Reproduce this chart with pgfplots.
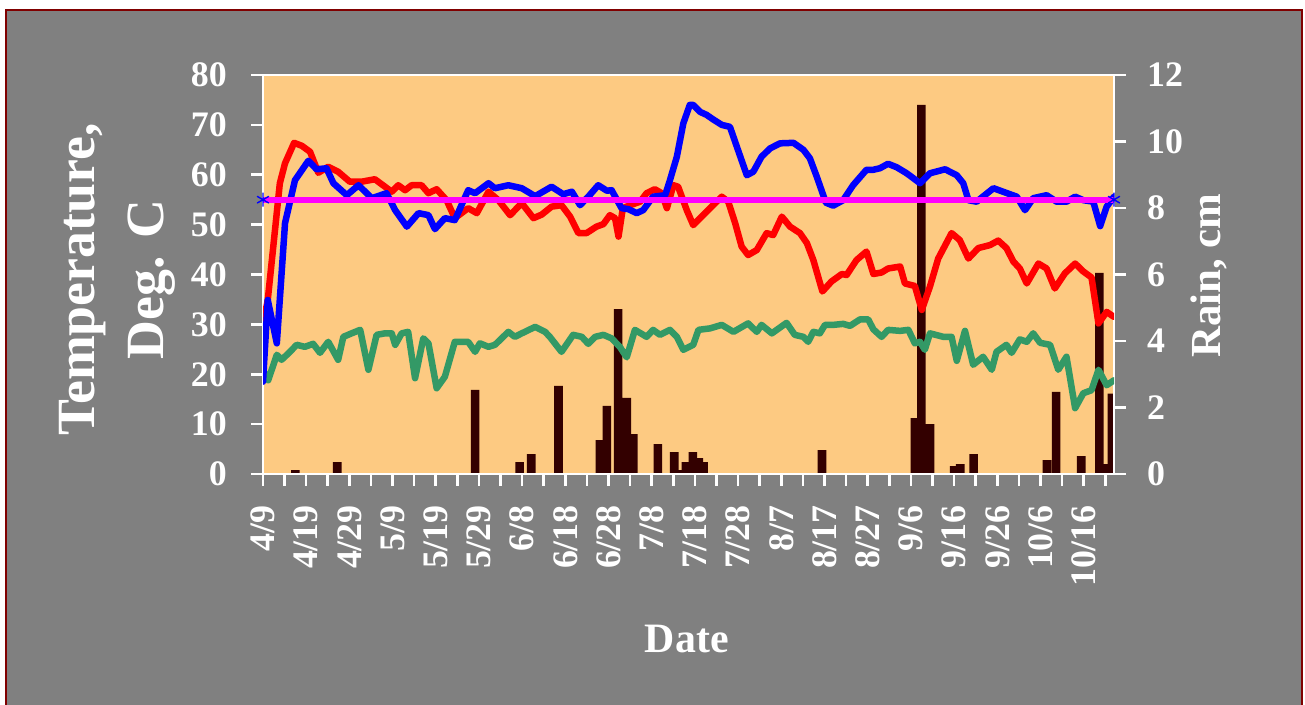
\documentclass[border=0pt]{standalone}
\usepackage{pgfplots}
\pgfplotsset{compat=1.18}
\usepackage{fontspec}
\setmainfont{Liberation Serif}
\definecolor{bgpeach}{RGB}{253,202,130}
\definecolor{framered}{RGB}{128,0,0}
\definecolor{chartgray}{RGB}{128,128,128}
\definecolor{rainbar}{RGB}{51,0,0}
\definecolor{seagreen}{RGB}{51,153,102}
\definecolor{lineblue}{RGB}{0,0,255}
\definecolor{linered}{RGB}{255,0,0}
\definecolor{linemagenta}{RGB}{255,0,255}
\newcommand\tickfont{\fontsize{36}{40}\selectfont\bfseries}

\pgfplotstableread{
day rain
7.5 0.12
17.2 0.36
49.1 2.53
59.4 0.36
62.1 0.60
68.4 2.65
78.0 1.02
79.6 2.05
82.2 4.96
84.2 2.29
85.7 1.20
91.4 0.90
95.2 0.66
96.8 0.12
97.9 0.36
99.5 0.66
100.9 0.48
102.0 0.36
129.4 0.72
150.9 1.68
152.4 11.10
154.4 1.50
160.0 0.24
161.4 0.30
164.5 0.60
181.5 0.42
183.6 2.47
189.4 0.54
193.6 6.05
195.0 0.30
196.5 2.42
}\raintable

\pgfplotstableread{
day t
0 18.5
1.1 34.9
3.2 26.2
5.1 50.3
7.4 58.9
10.5 62.8
12.4 61.1
14.7 61.3
16.3 58.3
19.4 55.9
22.1 57.9
25.2 55.3
28.6 56.3
30.6 52.9
33.3 49.6
36 52.3
38.3 51.9
39.8 49.1
42.1 51.3
44.4 50.9
47.5 56.9
49.1 56.3
52.2 58.3
53.7 57.3
56.8 57.9
59.9 57.3
63 55.7
66.8 57.6
69.5 56.1
71.5 56.6
73.4 53.9
75.3 55.6
77.6 57.9
79.6 56.8
80.7 56.9
83 53.3
84.6 53.1
86.5 52.3
88 52.9
90.3 55.6
93.1 55.9
94.2 58.9
95.8 63.6
97.3 70.3
98.8 74.0
99.6 74.0
101.2 72.6
102.7 72.0
104.2 71.1
106.2 70.0
108.1 69.6
109.7 65.6
112 59.9
113.5 60.6
115.4 63.6
117.4 65.3
119.7 66.3
122.8 66.4
125.1 65.0
126.6 63.3
128.2 59.6
130.3 54.4
132 53.8
134.3 54.9
136.6 57.9
139.7 61.0
141.3 61.0
142.8 61.3
144.7 62.2
146.7 61.5
149 60.3
152.1 58.3
154.4 60.3
157.9 61.1
160.6 59.9
162.1 58.3
163.3 54.9
165.2 54.6
169.1 57.3
172.9 56.1
174.5 55.6
176.4 52.9
178.3 55.3
181.4 55.9
183.7 54.6
186 54.6
188 55.6
189.9 54.9
192.2 54.6
193.8 49.7
195.3 53.6
197 55.6
}\bluetable

\pgfplotstableread{
day t
0 29.9
1.1 34.9
3.9 58.3
5.1 62.3
7.2 66.4
9 65.8
10.9 64.6
12.8 60.4
15.1 61.6
17.4 60.6
20.1 58.6
22.8 58.6
25.9 59.1
29.8 56.6
31.3 57.9
32.9 56.9
34.4 57.9
36.7 57.9
38.3 56.3
40.2 57.1
42.5 54.9
44.4 51.3
47.5 53.3
49.5 52.3
52.2 56.6
54.5 54.9
57.2 51.9
59.9 54.3
62.6 51.3
64.5 52.0
66.8 53.6
69.1 53.9
71.1 51.6
73 48.3
74.9 48.3
77.2 49.6
78.8 50.1
80.3 51.9
81.5 51.3
82.3 47.6
83.3 53.3
85 53.9
87.3 54.6
88.8 56.3
90.7 57.1
92.3 56.3
93.5 53.3
95 57.9
96.1 57.6
98.1 52.9
99.6 49.9
101.2 51.3
103.5 53.3
106.2 55.6
107.7 54.6
109.3 50.3
110.8 45.6
112.3 43.9
114.3 44.9
116.6 48.3
118.1 47.9
120.1 51.6
122 49.6
124.3 48.3
125.9 46.3
127.4 42.9
129.5 36.6
131.6 38.6
134 40.1
135.1 39.9
137.4 42.9
139.7 44.6
141.3 40.1
143.2 40.4
144.7 41.2
147.5 41.6
148.6 38.2
150.9 37.7
152.5 32.9
154.4 37.6
156.3 43.2
159.4 48.3
161.3 46.9
163.3 43.2
165.6 45.3
168.3 45.9
170.2 46.8
172.1 45.3
173.7 42.6
175.2 41.2
176.8 38.2
179.5 42.2
181.4 41.2
183.3 37.2
185.6 40.2
188 42.2
189.9 40.6
191.8 39.4
193.4 30.2
195.3 32.5
197 31.5
}\redtable

\pgfplotstableread{
day t
0 20.9
1.2 18.8
3.2 23.9
4.3 22.9
5.9 24.2
7.8 25.9
9.7 25.5
11.6 26.1
13.2 24.3
15.1 26.5
17.4 22.9
18.6 27.5
20.5 28.2
22.5 28.9
24.4 20.9
26.3 27.9
28.2 28.2
29.8 28.2
30.6 25.9
32.1 28.2
33.6 28.5
35.2 19.2
37.1 27.2
38.3 26.2
40.2 17.2
42.1 19.5
44.4 26.5
47.5 26.5
49.1 24.5
50.2 26.2
52.2 25.5
53.7 25.9
56.8 28.5
58.3 27.5
59.9 28.2
63 29.5
65.3 28.5
66.4 27.5
69.1 24.5
71.8 27.9
73.8 27.5
75.3 26.1
76.9 27.5
78.8 27.9
80.7 27.2
82.6 25.5
84.2 23.4
86.1 28.9
88.8 27.5
90.3 28.9
91.9 27.9
94.2 28.9
95.8 27.5
97.3 24.9
99.6 25.9
100.8 28.9
103.5 29.2
106.2 29.9
108.9 28.5
112.3 30.2
114.3 28.5
115.4 29.9
117.8 28.2
121.2 30.3
123.1 27.9
125.1 27.5
126.2 26.5
127.4 28.5
128.9 28.2
130.1 29.9
132 29.9
134.3 30.1
135.9 29.7
138.2 31.0
140.1 31.0
141.3 29.0
143.2 27.5
144.7 28.9
147.5 28.7
149.4 28.9
150.9 26.2
152.1 26.5
153.2 24.9
154.4 28.2
157.5 27.5
159.4 27.5
160.6 22.7
162.5 28.7
164.4 21.9
166.7 23.5
168.7 20.9
169.8 24.5
172.1 25.9
173.3 24.3
175.2 27.0
176.8 26.5
178.3 28.2
179.9 26.3
182.2 25.9
184.1 20.9
186 23.5
188 13.2
189.9 16.2
191.8 16.8
193.4 20.9
195.3 17.8
197 18.8
}\greentable

\begin{document}
\begin{tikzpicture}
\useasboundingbox (0bp,0bp) rectangle (1305bp,705bp);
\fill[white] (0bp,0bp) rectangle (1305bp,705bp);
\draw[framered, line width=2.2bp, fill=chartgray] (6bp,-4bp) rectangle (1302bp,694.7bp);

\pgfplotsset{
  chartcommon/.style={
    at={(263bp,231bp)}, anchor=south west,
    width=851bp, height=399bp, scale only axis,
    xmin=0, xmax=197,
    axis line style={white, line width=2.6bp},
    tick style={white, line width=2.6bp},
    tick align=outside,
    major tick length=12bp, minor tick length=12bp,
    /pgf/number format/assume math mode=true,
    ticklabel style={font=\tickfont, text=white, inner sep=0pt},
  }
}

% Rain axis (right), drawn first so bars sit behind the temperature lines
\begin{axis}[
  chartcommon,
  ymin=0, ymax=12,
  ytick={0,2,...,12},
  axis background/.style={fill=bgpeach},
  hide x axis,
  axis y line*=right,
  yticklabel style={anchor=west, xshift=21bp},
  ylabel={Rain, cm},
  ylabel style={at={(axis description cs:1.1116,0.497)}, anchor=center, rotate=0,
    inner sep=0pt, font=\fontsize{43}{48}\selectfont\bfseries, text=white},
]
\addplot[ybar, bar width=2, fill=rainbar, draw=none] table[x=day, y=rain] {\raintable};
\end{axis}

% Temperature axis (left)
\begin{axis}[
  chartcommon,
  ymin=0, ymax=80,
  ytick={0,10,...,80},
  xtick={0,10,...,190},
  xticklabels={4/9,4/19,4/29,5/9,5/19,5/29,6/8,6/18,6/28,7/8,7/18,7/28,8/7,8/17,8/27,9/6,9/16,9/26,10/6,10/16},
  minor xtick={5,15,...,195},
  xtick pos=left, ytick pos=left,
  yticklabel style={anchor=east, xshift=-24bp},
  xticklabel style={rotate=90, anchor=east, xshift=-19bp},
  xlabel={Date},
  xlabel style={at={(axis description cs:0.498,-0.4135)}, anchor=center,
    inner sep=0pt, font=\fontsize{42}{48}\selectfont\bfseries, text=white},
  ylabel={Temperature,\\Deg. C},
  ylabel style={at={(axis description cs:-0.1716,0.487)}, anchor=center,
    inner sep=0pt, align=center, font=\fontsize{54}{69}\selectfont\bfseries, text=white},
  every axis plot/.append style={line join=round, line cap=round},
]
\addplot[draw=seagreen, line width=6.5bp] table[x=day, y=t] {\greentable};
\addplot[draw=linered, line width=6.5bp] table[x=day, y=t] {\redtable};
\addplot[draw=lineblue, line width=6.5bp] table[x=day, y=t] {\bluetable};
\addplot[draw=linemagenta, line width=6bp, mark=asterisk, mark size=6.5bp,
  mark options={draw=lineblue, line width=1.4bp, solid}] coordinates {(0,55) (197,55)};
\end{axis}
\end{tikzpicture}
\end{document}
